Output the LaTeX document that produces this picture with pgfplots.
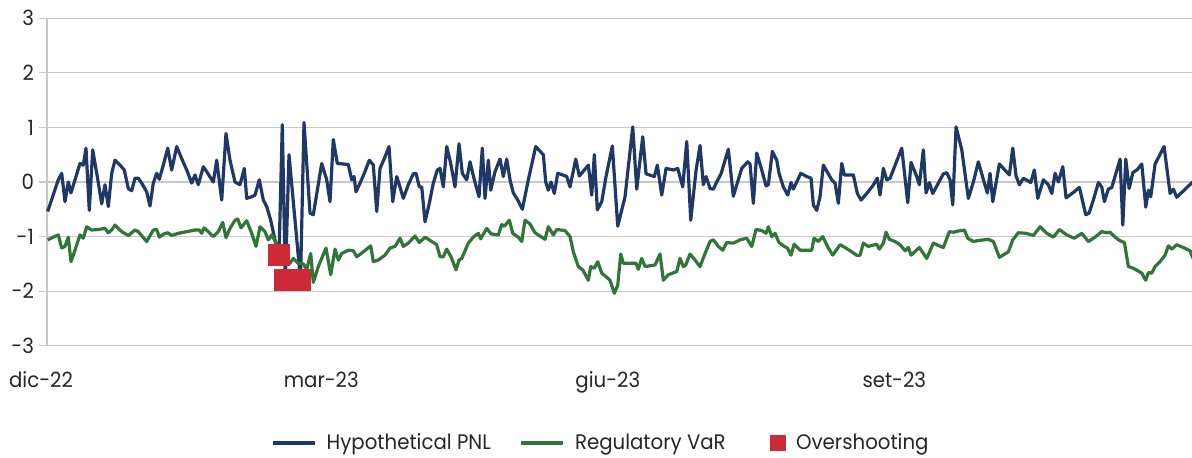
\documentclass[border=0pt]{standalone}
\usepackage{fontspec}
\setmainfont{Poppins}[FakeStretch=0.94]
\usepackage{pgfplots}
\usepackage{pgfplotstable}
\pgfplotsset{compat=1.18}

\definecolor{pnlblue}{HTML}{1F3864}
\definecolor{vargreen}{HTML}{31753A}
\definecolor{ovred}{HTML}{CC2A36}
\definecolor{gridgray}{HTML}{C8C8C8}
\definecolor{labelgray}{HTML}{262626}

% first column: horizontal position (pixels), converted to days from 1 Dec 2022 below
\pgfplotstableread{
px pnl
47.7 -0.54
58.3 0.04
61.7 0.16
65.0 -0.36
68.3 0.00
71.0 -0.20
75.0 0.04
80.0 0.34
83.3 0.31
86.0 0.62
89.3 -0.52
92.7 0.59
97.3 0.10
101.7 -0.40
105.0 -0.05
108.3 -0.45
111.7 0.16
115.0 0.40
120.0 0.31
124.3 0.22
128.3 -0.12
131.7 -0.16
135.0 0.07
138.3 0.07
141.7 -0.02
146.7 -0.18
150.0 -0.44
153.3 -0.02
156.7 0.16
159.3 0.05
163.3 0.31
167.7 0.62
171.7 0.22
176.7 0.65
181.7 0.43
186.7 0.22
191.7 -0.02
195.0 0.13
198.3 -0.05
203.3 0.28
206.7 0.19
213.3 0.00
216.7 0.40
221.7 -0.33
226.0 0.89
230.0 0.40
235.0 0.00
240.0 -0.05
244.3 0.25
246.7 -0.30
251.7 -0.27
255.0 -0.24
259.3 0.04
263.3 -0.33
266.7 -0.45
270.7 -0.70
276.0 -1.15
279.0 -1.34
282.3 1.05
285.3 -1.80
289.0 0.50
300.5 -1.80
304.0 1.09
310.0 -0.57
313.3 -0.60
321.7 0.34
326.7 0.04
330.0 -0.36
333.3 0.78
337.3 0.34
343.3 0.33
348.3 0.32
351.7 0.04
354.0 0.10
356.0 -0.18
360.0 -0.02
364.3 0.16
369.3 0.40
373.3 0.31
376.7 -0.54
380.0 0.25
385.0 0.46
389.0 0.65
392.7 -0.36
396.7 0.10
399.3 -0.05
403.3 -0.30
408.3 -0.05
413.3 0.15
416.0 0.16
419.3 -0.09
421.7 -0.09
425.0 -0.73
429.3 -0.39
433.3 -0.02
437.3 0.22
440.0 0.25
443.3 -0.09
446.7 0.65
450.7 0.34
455.0 -0.09
459.0 0.70
462.3 0.16
466.7 0.04
470.0 0.37
474.3 0.04
479.0 -0.27
482.3 0.62
485.0 -0.30
488.3 0.40
490.7 -0.15
495.0 0.19
500.0 0.42
503.3 0.10
506.7 0.42
510.0 0.04
513.3 -0.20
517.7 -0.33
522.3 -0.50
528.3 0.04
535.7 0.65
543.3 0.50
545.7 0.00
548.3 -0.15
551.0 0.00
554.3 -0.21
557.7 0.16
562.7 0.13
566.7 0.10
570.0 -0.09
575.7 0.42
579.3 0.11
584.3 0.22
588.3 0.31
591.7 -0.24
594.3 0.50
597.3 -0.51
601.7 -0.36
606.0 0.10
612.3 0.66
617.7 -0.81
625.0 -0.27
632.7 1.01
636.7 -0.13
642.7 0.83
646.0 0.15
654.3 0.10
657.3 0.31
661.7 -0.24
666.0 0.25
673.3 0.22
677.7 0.25
682.7 -0.09
686.7 0.74
690.7 -0.70
696.0 0.21
700.0 0.67
703.3 -0.05
706.0 0.10
710.0 -0.12
713.3 -0.13
716.7 0.00
721.0 0.15
728.3 0.60
733.3 -0.26
741.7 0.25
747.7 0.37
750.0 0.33
753.3 -0.39
756.7 0.53
761.7 0.22
766.0 -0.07
768.3 -0.05
772.3 0.56
776.7 0.40
779.0 0.16
783.3 -0.09
787.7 -0.24
791.0 -0.01
793.3 -0.13
796.7 0.00
800.7 0.16
806.7 0.10
811.0 0.07
813.3 -0.42
816.7 -0.52
820.0 -0.27
823.3 0.31
831.7 0.04
835.0 -0.02
838.3 -0.39
841.7 0.34
844.3 0.13
853.3 0.13
857.3 -0.21
861.0 -0.33
866.7 -0.21
872.7 -0.07
877.3 0.07
880.0 -0.24
883.3 0.25
886.7 0.04
890.0 0.07
901.7 0.62
907.7 -0.38
911.0 0.36
916.7 0.10
919.3 -0.05
923.3 0.59
926.0 -0.20
929.3 -0.01
932.7 -0.21
938.3 -0.02
943.3 0.15
946.7 0.17
950.0 0.04
952.7 -0.42
956.0 1.01
961.7 0.59
968.3 -0.30
973.3 0.00
978.3 0.37
984.0 0.00
987.3 -0.20
990.0 0.16
992.7 -0.36
999.3 0.33
1003.3 0.25
1009.3 0.13
1012.7 0.62
1016.0 0.11
1019.3 -0.05
1023.3 0.07
1030.7 -0.01
1034.3 0.22
1037.7 -0.30
1043.3 0.04
1048.3 -0.05
1051.7 -0.21
1055.0 0.16
1058.3 0.00
1062.7 0.28
1066.0 -0.29
1072.7 -0.20
1079.3 -0.10
1085.7 -0.60
1089.0 -0.57
1093.3 -0.33
1098.3 -0.01
1101.7 -0.09
1104.3 -0.36
1108.3 -0.13
1111.7 -0.10
1120.0 0.42
1122.7 -0.79
1125.7 0.42
1129.0 -0.12
1132.7 0.17
1137.3 0.23
1141.7 0.33
1145.7 -0.46
1148.3 -0.15
1150.7 -0.27
1155.0 0.33
1164.0 0.65
1170.0 -0.21
1173.3 -0.13
1176.7 -0.28
1192.0 -0.01
1196.0 0.04
}\pnltab

\pgfplotstableread{
px var
47.7 -1.06
53.3 -1.01
58.3 -0.97
61.7 -1.21
65.0 -1.18
68.3 -1.01
71.0 -1.46
75.0 -1.25
80.0 -0.97
83.3 -1.03
86.7 -0.82
91.7 -0.88
98.3 -0.87
105.0 -0.85
108.3 -0.93
111.7 -0.88
115.0 -0.79
121.7 -0.91
128.3 -0.98
135.0 -0.88
138.3 -0.91
146.7 -1.09
153.3 -0.88
156.7 -0.87
159.3 -1.01
164.0 -0.95
167.7 -0.93
171.7 -0.98
178.3 -0.94
186.7 -0.91
195.0 -0.88
199.3 -0.88
201.7 -0.94
204.0 -0.84
208.3 -0.91
213.3 -1.00
218.3 -0.91
222.7 -0.74
226.0 -1.02
230.0 -0.85
235.0 -0.70
237.7 -0.68
241.0 -0.84
246.7 -0.71
251.7 -0.94
256.0 -1.18
260.0 -0.82
265.0 -0.91
268.3 -1.06
271.7 -0.97
278.3 -1.18
283.3 -1.35
290.0 -1.49
293.3 -1.40
298.3 -1.49
303.3 -1.50
306.7 -1.60
310.7 -1.31
313.3 -1.84
318.3 -1.55
326.0 -1.21
330.7 -1.70
335.0 -1.23
338.3 -1.43
341.7 -1.31
348.3 -1.25
353.3 -1.26
356.7 -1.37
363.3 -1.28
370.7 -1.17
373.3 -1.46
378.3 -1.43
385.0 -1.34
390.0 -1.21
395.0 -1.18
400.0 -1.03
403.3 -1.18
408.3 -1.12
415.0 -0.99
419.3 -1.11
425.0 -1.01
431.7 -1.09
436.7 -1.15
440.0 -1.37
443.3 -1.37
446.7 -1.23
451.0 -1.37
456.0 -1.61
459.0 -1.43
461.7 -1.40
468.3 -1.12
473.3 -1.01
478.3 -0.94
480.7 -1.04
486.7 -0.85
491.0 -0.95
498.3 -0.97
501.7 -0.78
504.3 -0.81
509.3 -0.70
512.7 -0.94
518.3 -1.01
521.7 -1.09
525.0 -0.70
530.0 -0.77
535.0 -0.93
540.0 -0.99
545.0 -1.05
548.3 -0.82
553.3 -0.97
556.7 -0.87
565.0 -0.89
570.0 -1.00
573.3 -1.28
578.3 -1.55
582.7 -1.61
588.3 -1.80
590.7 -1.55
594.3 -1.58
597.7 -1.46
601.7 -1.67
605.0 -1.72
610.0 -1.80
614.3 -2.04
617.7 -1.89
620.7 -1.32
623.3 -1.49
636.0 -1.49
638.3 -1.60
641.7 -1.40
645.0 -1.55
655.0 -1.52
660.0 -1.32
663.3 -1.80
668.3 -1.70
676.7 -1.64
680.0 -1.40
683.3 -1.55
685.7 -1.52
690.0 -1.32
695.0 -1.43
700.0 -1.55
705.0 -1.31
710.0 -1.09
713.3 -1.06
718.3 -1.18
722.7 -1.25
726.7 -1.11
733.3 -1.12
740.0 -1.06
746.7 -1.03
751.7 -1.18
756.0 -0.87
761.7 -0.89
766.0 -0.94
768.3 -0.82
771.7 -1.00
775.0 -0.94
779.0 -1.11
784.3 -1.18
787.3 -1.21
791.0 -1.34
794.0 -1.14
800.0 -1.25
811.7 -1.25
814.0 -1.03
818.3 -1.09
822.7 -1.00
828.3 -1.21
832.7 -1.34
840.0 -1.15
845.0 -1.20
851.7 -1.28
857.3 -1.35
860.0 -1.34
863.3 -1.12
868.3 -1.18
876.7 -1.14
879.3 -1.23
883.3 -1.12
886.0 -0.92
889.3 -1.05
895.0 -1.09
900.0 -1.15
905.0 -1.26
908.3 -1.20
911.0 -1.34
919.3 -1.20
926.7 -1.40
933.3 -1.12
939.3 -1.17
943.3 -1.20
949.3 -0.91
953.3 -0.92
957.7 -0.90
964.3 -0.88
967.7 -1.03
973.3 -1.09
979.3 -1.07
988.3 -1.05
993.3 -1.09
999.3 -1.38
1008.3 -1.28
1012.7 -1.06
1018.3 -0.93
1026.0 -0.94
1033.3 -0.98
1040.0 -0.82
1046.7 -0.94
1053.3 -1.01
1059.3 -0.87
1066.7 -0.97
1074.0 -1.03
1076.7 -1.00
1081.7 -0.94
1088.3 -1.09
1095.0 -1.01
1101.7 -0.91
1106.7 -0.93
1110.0 -0.92
1115.0 -1.01
1119.3 -1.07
1124.3 -1.11
1128.3 -1.55
1133.3 -1.58
1141.7 -1.67
1145.7 -1.80
1148.3 -1.66
1151.7 -1.67
1155.0 -1.55
1160.0 -1.46
1165.0 -1.34
1168.3 -1.17
1171.7 -1.23
1176.7 -1.15
1183.3 -1.20
1190.0 -1.26
1193.0 -1.40
}\vartab

\pgfplotstableread{
px ov
279.0 -1.34
285.3 -1.80
300.5 -1.80
}\ovtab

\begin{document}
\begin{tikzpicture}
\useasboundingbox (0,0) rectangle (596pt,228.5pt);
\begin{axis}[
  at={(23.5pt,55.65pt)}, anchor=south west,
  scale only axis, width=572.5pt, height=163.7pt,
  xmin=1.93, xmax=369.6, ymin=-3, ymax=3,
  clip=false,
  axis y line*=left, axis x line*=bottom,
  x axis line style={draw=none},
  y axis line style={draw=gridgray, line width=0.6pt},
  xtick={90,182,274}, xticklabels={mar-23,giu-23,set-23},
  ytick={-3,...,3}, yticklabels={-3,-2,-1,0,1,2,3},
  xtick style={draw=none},
  ytick style={draw=gridgray, line width=0.6pt},
  tick align=outside, major tick length=4pt,
  ymajorgrids, grid style={gridgray, line width=0.6pt},
  tick label style={font=\fontsize{10.5pt}{12pt}\selectfont, text=labelgray},
  xticklabel style={anchor=base, yshift=-17pt},
  yticklabel style={anchor=east, xshift=1pt},
  legend style={at={(0.483,-0.297)}, anchor=center, draw=none, fill=none,
    legend columns=-1, font=\fontsize{10.5pt}{12pt}\selectfont, text=labelgray,
    nodes={inner sep=0pt},
    /tikz/every odd column/.append style={column sep=5pt},
    /tikz/every even column/.append style={column sep=14.5pt}},
  legend image code/.code={\draw[#1] (0pt,0pt) -- (21pt,0pt);},
]
\addplot[pnlblue, line width=1.6pt, line join=round] table [x expr=(\thisrow{px}-41)/3.114, y=pnl] {\pnltab};
\addlegendentry{Hypothetical PNL}
\addplot[vargreen, line width=1.6pt, line join=round] table [x expr=(\thisrow{px}-41)/3.114, y=var] {\vartab};
\addlegendentry{Regulatory VaR}
\addplot[ovred, only marks, mark=square*, mark size=5.2pt, mark options={fill=ovred, draw=ovred, line width=0pt},
  legend image code/.code={\path[draw=none] (0pt,0pt) -- (8pt,0pt); \fill[ovred] (8pt,-3.75pt) rectangle (15.5pt,3.75pt);}]
  table [x expr=(\thisrow{px}-41)/3.114, y=ov] {\ovtab};
\addlegendentry{Overshooting}
\node[anchor=base, font=\fontsize{10.5pt}{12pt}\selectfont, text=labelgray] at (axis cs:0,-3) [yshift=-21pt] {dic-22};
\end{axis}
\end{tikzpicture}
\end{document}
